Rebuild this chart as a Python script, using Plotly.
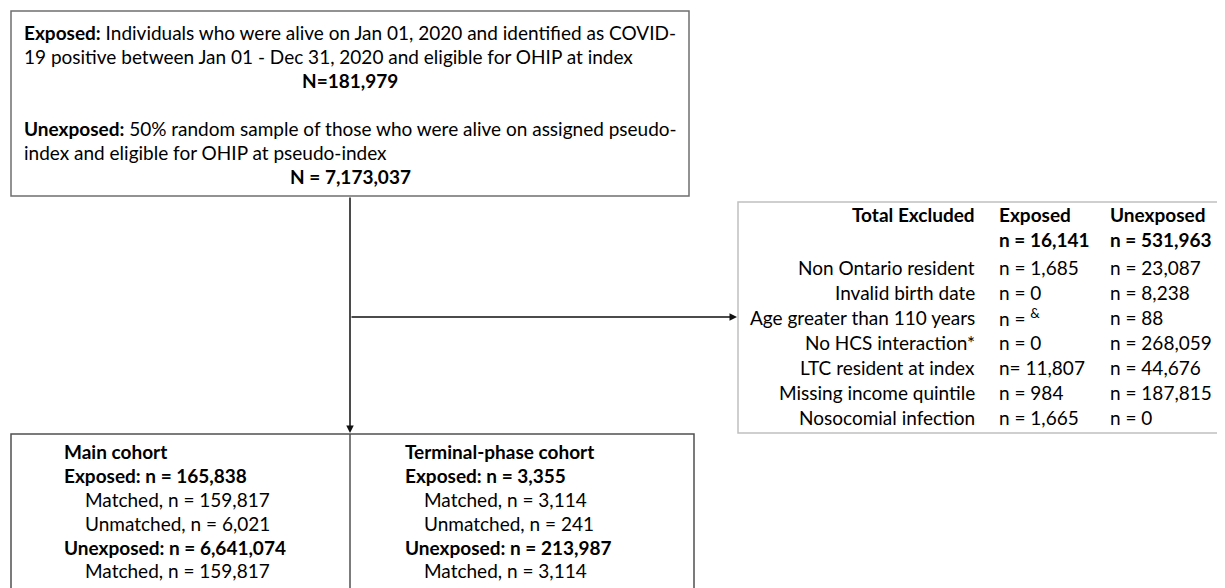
import plotly.graph_objects as go

# ---------------- data (text content of the flow chart) ----------------
exposed_desc = [
    "<b>Exposed:</b> Individuals who were alive on Jan 01, 2020 and identified as COVID-",
    "19 positive between Jan 01 - Dec 31, 2020 and eligible for OHIP at index",
]
exposed_total = "N=181,979"
unexposed_desc = [
    "<b>Unexposed:</b> 50% random sample of those who were alive on assigned pseudo-",
    "index and eligible for OHIP at pseudo-index",
]
unexposed_total = "N = 7,173,037"

excl_header = ["Total Excluded", "Exposed", "Unexposed"]
excl_totals = ["n = 16,141", "n = 531,963"]
excl_reasons = [
    "Non Ontario resident",
    "Invalid birth date",
    "Age greater than 110 years",
    "No HCS interaction*",
    "LTC resident at index",
    "Missing income quintile",
    "Nosocomial infection",
]
excl_exposed = ["n = 1,685", "n = 0", "n = <sup>&amp;</sup>", "n = 0", "n= 11,807", "n = 984", "n = 1,665"]
excl_unexposed = ["n = 23,087", "n = 8,238", "n = 88", "n = 268,059", "n = 44,676", "n = 187,815", "n = 0"]

main_cohort = [
    ("Main cohort", "head"),
    ("Exposed: n = 165,838", "head"),
    ("Matched, n = 159,817", "sub"),
    ("Unmatched, n = 6,021", "sub"),
    ("Unexposed: n = 6,641,074", "head"),
    ("Matched, n = 159,817", "sub"),
]
terminal_cohort = [
    ("Terminal-phase cohort", "head"),
    ("Exposed: n = 3,355", "head"),
    ("Matched, n = 3,114", "sub"),
    ("Unmatched, n = 241", "sub"),
    ("Unexposed: n = 213,987", "head"),
    ("Matched, n = 3,114", "sub"),
]

# ---------------- layout ----------------
W, H = 1225, 588
OFF = 8  # default page margin of the html body; axes are offset so data units == page pixels
FONT = "Lato, 'Open Sans', sans-serif"
FS = 19
TXT = "#000000"

fig = go.Figure()
shapes = []
ann = []


def text(x, y, s, anchor="left", bold=False, size=FS):
    if bold:
        s = "<b>" + s + "</b>"
    ann.append(dict(x=x, y=y, xref="x", yref="y", text=s, showarrow=False,
                    xanchor=anchor, yanchor="middle",
                    font=dict(family=FONT, size=size, color=TXT)))


# top box
shapes.append(dict(type="rect", x0=11, x1=689, y0=11, y1=196,
                   line=dict(color="#6f6f6f", width=1.5), xref="x", yref="y"))
top_rows = [32, 56, 80, 128, 152, 176]
text(22, top_rows[0], exposed_desc[0])
text(22, top_rows[1], exposed_desc[1])
text(350, top_rows[2], exposed_total, anchor="center", bold=True)
text(22, top_rows[3], unexposed_desc[0])
text(22, top_rows[4], unexposed_desc[1])
text(350, top_rows[5], unexposed_total, anchor="center", bold=True)

# exclusion box
shapes.append(dict(type="rect", x0=738, x1=1223, y0=202, y1=433,
                   line=dict(color="#c0c0c0", width=1.5), xref="x", yref="y"))
c1, c2, c3 = 977, 997, 1108
text(c1, 214, excl_header[0], anchor="right", bold=True)
text(c2, 214, excl_header[1], bold=True)
text(c3, 214, excl_header[2], bold=True)
text(c2, 239, excl_totals[0], bold=True)
text(c3, 239, excl_totals[1], bold=True)
row0, step = 267, 25
for i, (r, e, u) in enumerate(zip(excl_reasons, excl_exposed, excl_unexposed)):
    y = row0 + i * step
    text(c1, y, r, anchor="right")
    text(c2, y, e)
    text(c3, y, u)

# bottom box (runs past the bottom edge)
shapes.append(dict(type="rect", x0=11, x1=694, y0=434, y1=620,
                   line=dict(color="#505050", width=1.5), xref="x", yref="y"))
shapes.append(dict(type="line", x0=350, x1=350, y0=434, y1=620,
                   line=dict(color="#505050", width=1.5), xref="x", yref="y"))
b_rows = [451, 475, 499, 523, 547, 570]
for (s, kind), y in zip(main_cohort, b_rows):
    text(62 if kind == "head" else 83, y, s, bold=(kind == "head"))
for (s, kind), y in zip(terminal_cohort, b_rows):
    text(403 if kind == "head" else 422, y, s, bold=(kind == "head"))

# connectors
ann.append(dict(x=350, y=433, ax=350, ay=196, xref="x", yref="y", axref="x", ayref="y",
                showarrow=True, arrowhead=2, arrowsize=1, arrowwidth=1.5,
                arrowcolor="#111111", text=""))
ann.append(dict(x=737, y=317, ax=350, ay=317, xref="x", yref="y", axref="x", ayref="y",
                showarrow=True, arrowhead=2, arrowsize=1, arrowwidth=1.5,
                arrowcolor="#111111", text=""))

fig.update_layout(
    width=W - OFF, height=H - OFF, margin=dict(l=0, r=0, t=0, b=0),
    paper_bgcolor="white", plot_bgcolor="white",
    xaxis=dict(range=[OFF, W], visible=False, fixedrange=True),
    yaxis=dict(range=[H, OFF], visible=False, fixedrange=True),
    shapes=shapes, annotations=ann, showlegend=False,
)
fig.write_html("out.html", config={"displayModeBar": False})
